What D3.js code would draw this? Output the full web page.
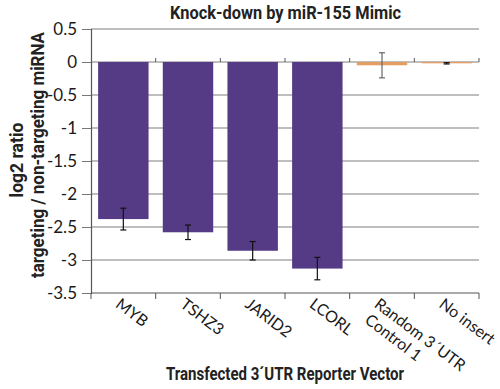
<!DOCTYPE html>
<html>
<head>
<meta charset="utf-8">
<script src="https://cdn.jsdelivr.net/npm/d3@7"></script>
<style>
body { margin:0; background:#fff; }
svg text { font-family: Lato, "Open Sans", sans-serif; }
svg text.ttl { font-family: Roboto, "Open Sans", sans-serif; font-weight: 700; }
</style>
</head>
<body>
<div id="chart-area"></div>
<script>
// data
var categories = ["MYB", "TSHZ3", "JARID2", "LCORL", "Random 3\u00b4UTR|Control 1", "No insert"];
var values = [-2.38, -2.58, -2.86, -3.13, -0.05, -0.02];
var errors = [0.165, 0.11, 0.14, 0.17, 0.19, 0.01];
var barColors = ["#553b85", "#553b85", "#553b85", "#553b85", "#e39e63", "#e39e63"];
var yTicks = [0.5, 0, -0.5, -1, -1.5, -2, -2.5, -3, -3.5];

var margin = {left:91, right:21, top:29, bottom:96};
var width = 500 - margin.left - margin.right;
var height = 389 - margin.top - margin.bottom;

var svg = d3.select("#chart-area")
	.append("svg")
		.attr("width", 500)
		.attr("height", 389);

var g = svg.append("g")
	.attr("transform", "translate(" + margin.left + "," + margin.top + ")");

var x = d3.scaleBand()
	.domain(categories)
	.range([0, width])
	.paddingInner(0.22)
	.paddingOuter(0.11);

var y = d3.scaleLinear()
	.domain([-3.5, 0.5])
	.range([height, 0]);

// gridlines
g.selectAll(".grid")
	.data(yTicks.filter(function(t){ return t > -3.5; }))
	.enter().append("line")
		.attr("x1", 0)
		.attr("x2", width)
		.attr("y1", function(d){ return y(d); })
		.attr("y2", function(d){ return y(d); })
		.attr("stroke", "#a8a8a8")
		.attr("stroke-width", 1.3);

// y axis
var yAxis = d3.axisLeft(y).tickValues(yTicks).tickSize(9).tickPadding(5)
	.tickFormat(function(d){ return d3.format("")(d).replace("\u2212", "-"); });
var ya = g.append("g").call(yAxis);
ya.select(".domain").attr("stroke", "#555").attr("stroke-width", 1.2);
ya.selectAll(".tick line").attr("stroke", "#777");
ya.selectAll(".tick text")
	.attr("font-size", "17px")
	.attr("fill", "#1a1a1a");

// bottom axis with ticks at band boundaries
var bounds = categories.map(function(c){ return x(c) - x.step() * x.paddingInner() / 2; });
bounds[0] = 0;
bounds.push(width);

g.append("line")
	.attr("x1", 0).attr("x2", width)
	.attr("y1", height).attr("y2", height)
	.attr("stroke", "#555").attr("stroke-width", 1.2);

g.selectAll(".btick")
	.data(bounds)
	.enter().append("line")
		.attr("x1", function(d){ return d; })
		.attr("x2", function(d){ return d; })
		.attr("y1", height)
		.attr("y2", height + 6)
		.attr("stroke", "#555");

// bars
g.selectAll(".bar")
	.data(values)
	.enter().append("rect")
		.attr("x", function(d, i){ return x(categories[i]); })
		.attr("width", x.bandwidth())
		.attr("y", function(d){ return y(Math.max(0, d)); })
		.attr("height", function(d){ return Math.abs(y(d) - y(0)); })
		.attr("fill", function(d, i){ return barColors[i]; });

// zero line ticks
g.selectAll(".ztick")
	.data(bounds.slice(1))
	.enter().append("line")
		.attr("x1", function(d){ return d; })
		.attr("x2", function(d){ return d; })
		.attr("y1", y(0) - 4)
		.attr("y2", y(0))
		.attr("stroke", "#555");

// error bars
var eb = g.selectAll(".err")
	.data(values)
	.enter().append("g")
		.attr("stroke", function(d, i){ return i == 4 ? "#666" : "#111"; })
		.attr("stroke-width", 1.2);

eb.append("line")
	.attr("x1", function(d, i){ return x(categories[i]) + x.bandwidth() / 2; })
	.attr("x2", function(d, i){ return x(categories[i]) + x.bandwidth() / 2; })
	.attr("y1", function(d, i){ return y(d + errors[i]); })
	.attr("y2", function(d, i){ return y(d - errors[i]); });

eb.append("line")
	.attr("x1", function(d, i){ return x(categories[i]) + x.bandwidth() / 2 - 3; })
	.attr("x2", function(d, i){ return x(categories[i]) + x.bandwidth() / 2 + 3; })
	.attr("y1", function(d, i){ return y(d + errors[i]); })
	.attr("y2", function(d, i){ return y(d + errors[i]); });

eb.append("line")
	.attr("x1", function(d, i){ return x(categories[i]) + x.bandwidth() / 2 - 3; })
	.attr("x2", function(d, i){ return x(categories[i]) + x.bandwidth() / 2 + 3; })
	.attr("y1", function(d, i){ return y(d - errors[i]); })
	.attr("y2", function(d, i){ return y(d - errors[i]); });

// x labels, rotated
var xl = g.selectAll(".xlab")
	.data(categories)
	.enter().append("text")
		.attr("transform", function(d){
			return "translate(" + (x(d) + x.bandwidth() / 2 - 1) + "," + (height + 3) + ") rotate(37)";
		})
		.attr("font-size", "16px")
		.attr("fill", "#1a1a1a");

xl.each(function(d){
	var lines = d.split("|");
	var t = d3.select(this);
	lines.forEach(function(s, k){
		t.append("tspan")
			.attr("x", k * 2)
			.attr("dy", k == 0 ? "0.8em" : "1.15em")
			.text(s);
	});
});

// title
svg.append("text")
	.attr("class", "ttl")
	.attr("x", 285.5)
	.attr("y", 19)
	.attr("text-anchor", "middle")
	.attr("font-size", "18px")
	.attr("fill", "#222")
	.attr("textLength", 231)
	.attr("lengthAdjust", "spacingAndGlyphs")
	.text("Knock-down by miR-155 Mimic");

// x axis title
svg.append("text")
	.attr("class", "ttl")
	.attr("x", 285)
	.attr("y", 380)
	.attr("text-anchor", "middle")
	.attr("font-size", "18px")
	.attr("fill", "#222")
	.attr("textLength", 238)
	.attr("lengthAdjust", "spacingAndGlyphs")
	.text("Transfected 3\u00b4UTR Reporter Vector");

// y axis title
svg.append("text")
	.attr("class", "ttl")
	.attr("transform", "translate(23,160) rotate(-90)")
	.attr("text-anchor", "middle")
	.attr("font-size", "18px")
	.attr("fill", "#222")
	.attr("textLength", 75)
	.attr("lengthAdjust", "spacingAndGlyphs")
	.text("log2 ratio");

svg.append("text")
	.attr("class", "ttl")
	.attr("transform", "translate(44,155) rotate(-90)")
	.attr("text-anchor", "middle")
	.attr("font-size", "18px")
	.attr("fill", "#222")
	.attr("textLength", 246)
	.attr("lengthAdjust", "spacingAndGlyphs")
	.text("targeting / non-targeting miRNA");
</script>
</body>
</html>
